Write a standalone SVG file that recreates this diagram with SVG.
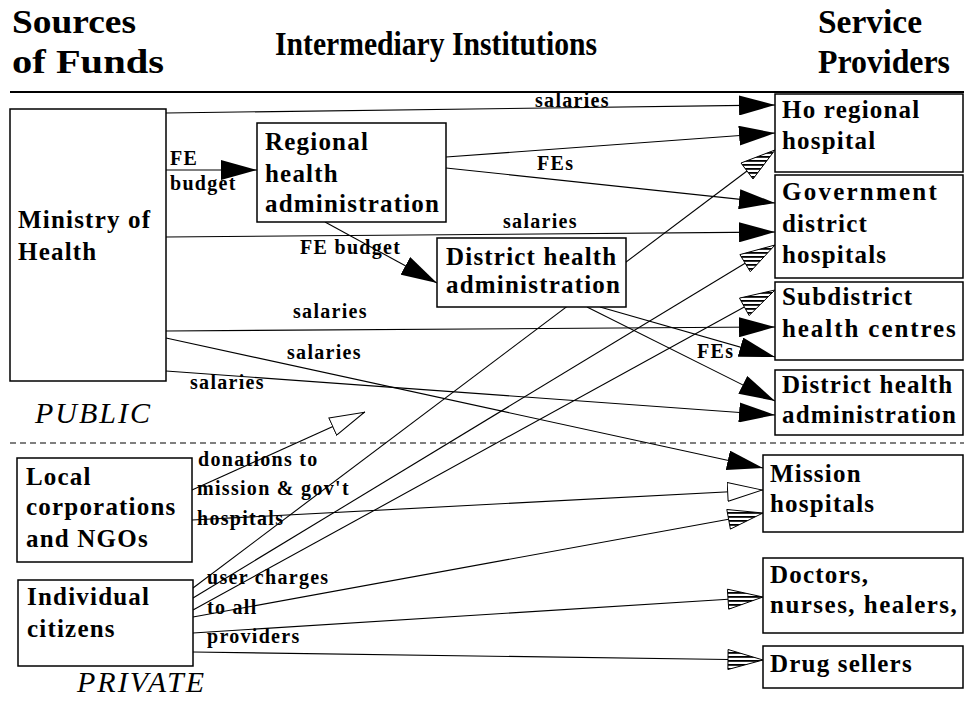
<svg xmlns="http://www.w3.org/2000/svg" width="964" height="701" viewBox="0 0 964 701">
<style>
text{font-family:"Liberation Serif","Times New Roman",serif;fill:#000}
.hd{font-size:33px;font-weight:bold}
.nd{font-size:25px;font-weight:bold;letter-spacing:1.2px}
.lb{font-size:20px;font-weight:bold;letter-spacing:1.3px}
.it{font-size:30px;font-style:italic;letter-spacing:2px}
.box{fill:#fff;stroke:#000;stroke-width:1.5}
.ln{fill:none;stroke:#000;stroke-width:1.1}
.sa{marker-end:url(#solid)}
.oa{marker-end:url(#open)}
.st{fill:url(#stripes);stroke:#000;stroke-width:1}
</style>
<defs>
<marker id="solid" viewBox="0 0 36 20" refX="36" refY="10" markerWidth="36" markerHeight="20" markerUnits="userSpaceOnUse" orient="auto"><path d="M0,0 L36,10 L0,20 Z" fill="#000"/></marker>
<marker id="open" viewBox="0 0 36 20" refX="36" refY="10" markerWidth="36" markerHeight="20" markerUnits="userSpaceOnUse" orient="auto"><path d="M0.6,0.6 L35.4,10 L0.6,19.4 Z" fill="#fff" stroke="#000" stroke-width="1"/></marker>
<pattern id="stripes" patternUnits="userSpaceOnUse" width="8" height="4"><rect width="8" height="4" fill="#fff"/><rect width="8" height="1.8" fill="#000"/></pattern>
</defs>
<rect width="964" height="701" fill="#fff"/>

<g id="headers">
<text class="hd" x="12" y="33" textLength="124" lengthAdjust="spacingAndGlyphs">Sources</text>
<text class="hd" x="12" y="73" textLength="152" lengthAdjust="spacingAndGlyphs">of Funds</text>
<text class="hd" x="275" y="55" textLength="322" lengthAdjust="spacingAndGlyphs">Intermediary Institutions</text>
<text class="hd" x="818" y="33" textLength="104" lengthAdjust="spacingAndGlyphs">Service</text>
<text class="hd" x="818" y="73" textLength="132" lengthAdjust="spacingAndGlyphs">Providers</text>
<line x1="10" y1="92" x2="964" y2="92" stroke="#000" stroke-width="2"/>
<line x1="10" y1="443" x2="964" y2="443" stroke="#000" stroke-width="1.2" stroke-dasharray="6 4"/>
<text class="it" x="35" y="423">PUBLIC</text>
<text class="it" x="77" y="692">PRIVATE</text>
</g>

<g id="connectors">
<path class="ln sa" d="M166,113 L775,105"/>
<path class="ln sa" d="M166,170 L257,170"/>
<path class="ln sa" d="M446,157 L775,133"/>
<path class="ln sa" d="M446,168 L775,203"/>
<path class="ln sa" d="M166,237 L775,232"/>
<path class="ln sa" d="M325,222 L437,283"/>
<path class="ln sa" d="M166,331 L775,327"/>
<path class="ln sa" d="M600,307 L775,357"/>
<path class="ln sa" d="M587,307 L775,401"/>
<path class="ln sa" d="M166,371 L775,415"/>
<path class="ln sa" d="M166,338 L763,468"/>
<path class="ln oa" d="M192,490 L365,412"/>
<path class="ln oa" d="M192,520 L763,490"/>
<path class="ln" d="M193,588 L747,171"/>
<path class="ln" d="M193,598 L745.1,263.2"/>
<path class="ln" d="M193,610 L744.3,306.9"/>
<path class="ln" d="M193,617 L728.6,519.3"/>
<path class="ln" d="M193,633 L728.1,599.2"/>
<path class="ln" d="M193,652 L728,659.5"/>
<polygon class="st" points="775,150 753,179 741,163"/>
<polygon class="st" points="775,245 750.3,271.7 739.9,254.6"/>
<polygon class="st" points="775,290 749.1,315.6 739.5,298.1"/>
<polygon class="st" points="763,513 730.4,529.1 726.8,509.5"/>
<polygon class="st" points="763,597 728.7,609.2 727.4,589.2"/>
<polygon class="st" points="763,660 727.9,669.5 728.1,649.5"/>
<text class="lb" x="535" y="107">salaries</text>
<text class="lb" x="170" y="165">FE</text>
<text class="lb" x="170" y="190">budget</text>
<text class="lb" x="537" y="170">FEs</text>
<text class="lb" x="503" y="228">salaries</text>
<text class="lb" x="300" y="254">FE budget</text>
<text class="lb" x="293" y="318">salaries</text>
<text class="lb" x="287" y="359">salaries</text>
<text class="lb" x="190" y="389">salaries</text>
<text class="lb" x="697" y="358">FEs</text>
<text class="lb" x="198" y="466">donations to</text>
<text class="lb" x="197" y="495">mission &amp; gov't</text>
<text class="lb" x="197" y="525">hospitals</text>
<text class="lb" x="207" y="584">user charges</text>
<text class="lb" x="207" y="614">to all</text>
<text class="lb" x="207" y="643">providers</text>
</g>

<g id="ministry">
<rect class="box" x="10" y="109" width="156" height="272"/>
<text class="nd" x="18" y="228">Ministry of</text>
<text class="nd" x="18" y="260">Health</text>
</g>
<g id="regional-admin">
<rect class="box" x="257" y="123" width="189" height="99"/>
<text class="nd" x="265" y="150">Regional</text>
<text class="nd" x="265" y="182">health</text>
<text class="nd" x="265" y="212">administration</text>
</g>
<g id="district-admin-mid">
<rect class="box" x="437" y="238" width="189" height="69"/>
<text class="nd" x="446" y="265">District health</text>
<text class="nd" x="446" y="293">administration</text>
</g>
<g id="local-corps">
<rect class="box" x="17" y="458" width="175" height="104"/>
<text class="nd" x="26" y="485">Local</text>
<text class="nd" x="26" y="515">corporations</text>
<text class="nd" x="26" y="547">and NGOs</text>
</g>
<g id="citizens">
<rect class="box" x="18" y="580" width="175" height="86"/>
<text class="nd" x="27" y="605">Individual</text>
<text class="nd" x="27" y="637">citizens</text>
</g>
<g id="ho-hospital">
<rect class="box" x="775" y="94" width="188" height="78"/>
<text class="nd" x="782" y="118">Ho regional</text>
<text class="nd" x="782" y="149">hospital</text>
</g>
<g id="gov-district-hospitals">
<rect class="box" x="775" y="175" width="188" height="103"/>
<text class="nd" x="782" y="200" textLength="156">Government</text>
<text class="nd" x="782" y="232">district</text>
<text class="nd" x="782" y="263">hospitals</text>
</g>
<g id="subdistrict">
<rect class="box" x="775" y="282" width="188" height="78"/>
<text class="nd" x="782" y="305">Subdistrict</text>
<text class="nd" x="782" y="337" textLength="175">health centres</text>
</g>
<g id="district-admin-right">
<rect class="box" x="775" y="370" width="188" height="65"/>
<text class="nd" x="782" y="393">District health</text>
<text class="nd" x="782" y="423">administration</text>
</g>
<g id="mission">
<rect class="box" x="763" y="455" width="200" height="77"/>
<text class="nd" x="770" y="482">Mission</text>
<text class="nd" x="770" y="512">hospitals</text>
</g>
<g id="doctors">
<rect class="box" x="763" y="558" width="200" height="75"/>
<text class="nd" x="770" y="583">Doctors,</text>
<text class="nd" x="770" y="613" textLength="188">nurses, healers,</text>
</g>
<g id="drug-sellers">
<rect class="box" x="763" y="646" width="200" height="42"/>
<text class="nd" x="770" y="672">Drug sellers</text>
</g>
</svg>
